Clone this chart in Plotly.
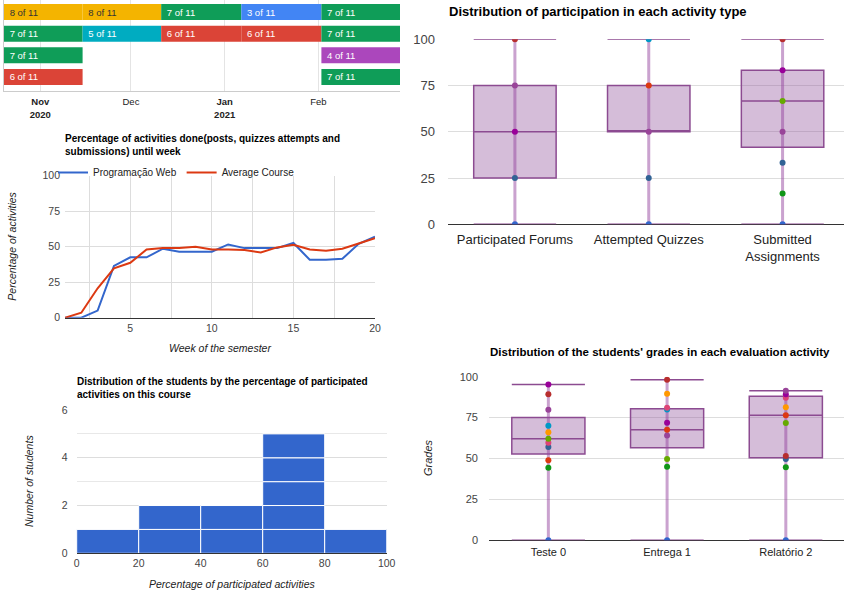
import plotly.graph_objects as go
import pandas as pd

W, H = 844, 592
FONT = "Arial, 'Liberation Sans', sans-serif"

# ---------------- data ----------------
# timeline (activity availability periods)
tl_rows = [0, 0, 0, 0, 0, 1, 1, 1, 1, 1, 2, 2, 3, 3]
tl_start = ["2020-10-20", "2020-11-15", "2020-12-11", "2021-01-06 12:00", "2021-02-02",
            "2020-10-20", "2020-11-15", "2020-12-11", "2021-01-06 12:00", "2021-02-02",
            "2020-10-20", "2021-02-02",
            "2020-10-20", "2021-02-02"]
tl_end = ["2020-11-15", "2020-12-11", "2021-01-06 12:00", "2021-02-02", "2021-02-28",
          "2020-11-15", "2020-12-11", "2021-01-06 12:00", "2021-02-02", "2021-02-28",
          "2020-11-15", "2021-02-28",
          "2020-11-15", "2021-02-28"]
tl_labels = ["8 of 11", "8 of 11", "7 of 11", "3 of 11", "7 of 11",
             "7 of 11", "5 of 11", "6 of 11", "6 of 11", "7 of 11",
             "7 of 11", "4 of 11",
             "6 of 11", "7 of 11"]
tl_colors = ["#f4b400", "#f4b400", "#0f9d58", "#4285f4", "#0f9d58",
             "#0f9d58", "#00acc1", "#db4437", "#db4437", "#0f9d58",
             "#0f9d58", "#ab47bc",
             "#db4437", "#0f9d58"]
tl_ticks = ["2020-11-01", "2020-12-01", "2021-01-01", "2021-02-01"]
tl_ticktext = ["<b>Nov</b><br><b>2020</b>", "Dec", "<b>Jan</b><br><b>2021</b>", "Feb"]

# weekly percentage of activities done
weeks = list(range(1, 21))
prog_web = [0, 0, 5, 36.5, 42.5, 42.5, 48.6, 46.5, 46.5, 46.5, 51.6, 49, 49, 49, 52.6, 40.8, 40.8, 41.5, 52, 57]
avg_course = [0, 3.5, 20.7, 34.7, 38.7, 48, 49, 49, 50, 48, 48, 47.6, 46, 49.5, 51.4, 48, 47.2, 48.6, 52.3, 56]

# histogram of students by percentage of participated activities
hist_edges = [0, 20, 40, 60, 80, 100]
hist_counts = [1, 2, 2, 5, 1]

# student palette (one colour per student)
palette = ["#3366cc", "#dc3912", "#ff9900", "#109618", "#990099", "#0099c6",
           "#dd4477", "#66aa00", "#b82e2e", "#316395", "#994499"]

# participation per activity type
part_cats = ["Participated Forums", "Attempted Quizzes", "Submitted<br>Assignments"]
part_min = [0, 0, 0]
part_q1 = [25, 50, 41.7]
part_med = [50, 50, 66.7]
part_q3 = [75, 75, 83.3]
part_max = [100, 100, 100]
part_points = [[0, 25, 50, 75, 100],
               [0, 25, 50, 75, 100],
               [0, 16.7, 33.3, 50, 66.7, 83.3, 100]]
part_point_colors = [[0, 9, 4, 10, 8],
                     [0, 9, 10, 1, 5],
                     [0, 3, 9, 10, 7, 4, 8]]

# grades per evaluation activity
grade_cats = ["Teste 0", "Entrega 1", "Relatório 2"]
grade_min = [0, 0, 0]
grade_q1 = [52.7, 56.6, 50.5]
grade_med = [62, 67.6, 76.4]
grade_q3 = [75, 80.4, 88]
grade_max = [95.3, 98.2, 91.4]
grade_points = [[0, 44.4, 48.9, 57, 59.7, 62.1, 66, 70, 79.8, 89.2, 95.3],
                [0, 45, 49.7, 64, 67.6, 71.9, 80, 81, 89.6, 98.2],
                [0, 44.6, 49.7, 51.5, 71.7, 76.4, 81.3, 87.2, 89.2, 91.4]]
grade_point_colors = [[0, 3, 1, 9, 6, 7, 2, 5, 10, 8, 4],
                      [0, 3, 7, 10, 1, 4, 5, 6, 2, 8],
                      [0, 3, 9, 8, 7, 1, 2, 6, 4, 10]]


def xd(a, b):
    return [a / W, min(b / W, 1)]


def yd(top, bottom):
    return [1 - bottom / H, 1 - top / H]


fig = go.Figure()

# ---------------- timeline ----------------
durations = [(pd.Timestamp(e) - pd.Timestamp(s)).total_seconds() * 1000 for s, e in zip(tl_start, tl_end)]
text_colors = ["#333333" if c == "#f4b400" else "#ffffff" for c in tl_colors]
fig.add_trace(go.Bar(
    y=tl_rows, x=durations, base=tl_start, orientation="h", width=0.74,
    marker=dict(color=tl_colors, line=dict(width=0)),
    text=["\u00a0" + t for t in tl_labels], textposition="inside", insidetextanchor="start",
    textfont=dict(size=9.5, color=text_colors, family=FONT), constraintext="none",
    xaxis="x", yaxis="y", showlegend=False, hoverinfo="skip"))

# ---------------- line chart ----------------
fig.add_trace(go.Scatter(x=weeks, y=prog_web, mode="lines", name="Programação Web",
                         line=dict(color="#3366cc", width=2), xaxis="x2", yaxis="y2", hoverinfo="skip"))
fig.add_trace(go.Scatter(x=weeks, y=avg_course, mode="lines", name="Average Course",
                         line=dict(color="#dc3912", width=2), xaxis="x2", yaxis="y2", hoverinfo="skip"))

# ---------------- histogram ----------------
hx, hb, hw = [], [], []
for i, cnt in enumerate(hist_counts):
    for k in range(cnt):
        hx.append((hist_edges[i] + hist_edges[i + 1]) / 2)
        hb.append(k)
        hw.append(hist_edges[i + 1] - hist_edges[i])
fig.add_trace(go.Bar(x=hx, y=[1] * len(hx), base=hb, width=hw,
                     marker=dict(color="#3366cc", line=dict(color="#ffffff", width=1)),
                     xaxis="x3", yaxis="y3", showlegend=False, hoverinfo="skip"))

# ---------------- box charts ----------------
BOX_LINE = "rgb(140,75,145)"
BOX_FILL = "rgba(150,90,160,0.4)"
STICK = "rgba(150,70,160,0.5)"
BOX_W = 0.616


def add_box(xa, ya, cats, mn, q1, med, q3, mx, pts, pcols):
    pos = list(range(len(cats)))
    # box body (quartiles and median)
    fig.add_trace(go.Box(x=pos, q1=q1, median=med, q3=q3, lowerfence=q1, upperfence=q3,
                         width=BOX_W, whiskerwidth=0, fillcolor=BOX_FILL,
                         line=dict(color=BOX_LINE, width=1.5), boxpoints=False,
                         xaxis=xa, yaxis=ya, showlegend=False, hoverinfo="skip"))
    # min-max stick
    sx, sy = [], []
    for p, a, b in zip(pos, mn, mx):
        sx += [p, p, None]
        sy += [a, b, None]
    fig.add_trace(go.Scatter(x=sx, y=sy, mode="lines", line=dict(color=STICK, width=3),
                             xaxis=xa, yaxis=ya, showlegend=False, hoverinfo="skip"))
    # caps at min and max
    cx, cy = [], []
    for p, a, b in zip(pos, mn, mx):
        for v in (a, b):
            cx += [p - BOX_W / 2, p + BOX_W / 2, None]
            cy += [v, v, None]
    fig.add_trace(go.Scatter(x=cx, y=cy, mode="lines", line=dict(color=BOX_LINE, width=1.5),
                             xaxis=xa, yaxis=ya, showlegend=False, hoverinfo="skip"))
    # student points
    px_, py_, pc_ = [], [], []
    for p, vals, cols in zip(pos, pts, pcols):
        for v, c in zip(vals, cols):
            px_.append(p)
            py_.append(v)
            pc_.append(palette[c])
    fig.add_trace(go.Scatter(x=px_, y=py_, mode="markers", marker=dict(color=pc_, size=6),
                             xaxis=xa, yaxis=ya, showlegend=False, hoverinfo="skip"))


add_box("x4", "y4", part_cats, part_min, part_q1, part_med, part_q3, part_max, part_points, part_point_colors)
add_box("x5", "y5", grade_cats, grade_min, grade_q1, grade_med, grade_q3, grade_max, grade_points, grade_point_colors)

GRID = "#dddddd"
TICK = "#444444"

fig.update_layout(
    width=W, height=H, margin=dict(l=0, r=0, t=0, b=0, autoexpand=False),
    paper_bgcolor="white", plot_bgcolor="white",
    font=dict(family=FONT, color="#222222"),
    hovermode=False, barmode="overlay",
    legend=dict(orientation="h", x=53 / W, y=1 - 158 / H, xanchor="left", yanchor="top",
                font=dict(size=10, color="#222222"), bgcolor="rgba(0,0,0,0)", itemwidth=30),
    # timeline
    xaxis=dict(domain=xd(4, 400), anchor="y", type="date", range=["2020-10-20", "2021-02-28"],
               tickvals=tl_ticks, ticktext=tl_ticktext, showgrid=True, gridcolor="#e4e4e4",
               showline=True, linecolor="#cccccc", zeroline=False, ticks="", automargin=False,
               tickfont=dict(size=9.5, color="#222222"), ticklabelstandoff=2),
    yaxis=dict(domain=yd(0, 91), anchor="x", range=[3.65, -0.556], showticklabels=False,
               showgrid=False, zeroline=False, showline=True, linecolor="#cccccc", automargin=False),
    # line chart
    xaxis2=dict(domain=xd(65, 375), anchor="y2", range=[1, 20], tick0=0, dtick=5,
                showgrid=True, gridcolor=GRID, minor=dict(dtick=2.5, tick0=0, showgrid=True, gridcolor=GRID),
                showline=True, linecolor="#333333", layer="below traces", zeroline=False, ticks="",
                tickfont=dict(size=10.5, color=TICK), automargin=False, ticklabelstandoff=1),
    yaxis2=dict(domain=yd(175.7, 317.7), anchor="x2", range=[0, 100], dtick=25, showgrid=True,
                gridcolor=GRID, zeroline=False, ticks="", tickfont=dict(size=10.5, color=TICK),
                ticklabelstandoff=4, automargin=False),
    # histogram
    xaxis3=dict(domain=xd(76.7, 386.7), anchor="y3", range=[0, 100], dtick=20, showgrid=False,
                showline=True, linecolor="#333333", zeroline=False, ticks="",
                tickfont=dict(size=10.5, color=TICK), automargin=False),
    yaxis3=dict(domain=yd(410, 553.3), anchor="x3", range=[0, 6], dtick=2, showgrid=True, gridcolor=GRID,
                minor=dict(dtick=1, showgrid=True, gridcolor="#e8e8e8"), zeroline=False, ticks="",
                tickfont=dict(size=10.5, color=TICK), ticklabelstandoff=8, automargin=False),
    # participation box
    xaxis4=dict(domain=xd(448, 844), anchor="y4", range=[-0.5, 2.459], tickvals=[0, 1, 2],
                ticktext=part_cats, showgrid=False, zeroline=False, ticks="",
                tickfont=dict(size=13, color="#222222"), ticklabelstandoff=6, automargin=False),
    yaxis4=dict(domain=yd(39.3, 224.3), anchor="x4", range=[0, 100], dtick=25, showgrid=True,
                gridcolor=GRID, zeroline=True, zerolinecolor="#333333", zerolinewidth=1, ticks="",
                tickfont=dict(size=13, color=TICK), ticklabelstandoff=12, automargin=False),
    # grades box
    xaxis5=dict(domain=xd(489, 844), anchor="y5", range=[-0.5, 2.49], tickvals=[0, 1, 2],
                ticktext=grade_cats, showgrid=False, zeroline=False, ticks="",
                tickfont=dict(size=11, color="#222222"), ticklabelstandoff=4, automargin=False),
    yaxis5=dict(domain=yd(376.7, 540.3), anchor="x5", range=[0, 100], dtick=25, showgrid=True,
                gridcolor=GRID, zeroline=True, zerolinecolor="#333333", zerolinewidth=1, ticks="",
                tickfont=dict(size=11, color=TICK), ticklabelstandoff=10, automargin=False),
)


def ann(text, x, y, size, xanchor="left", yanchor="middle", angle=0, color="#222222"):
    fig.add_annotation(text=text, x=x / W, y=1 - y / H, xref="paper", yref="paper",
                       xanchor=xanchor, yanchor=yanchor, textangle=angle, showarrow=False,
                       align="left", font=dict(size=size, color=color, family=FONT))


ann("<b>Percentage of activities done(posts, quizzes attempts and<br>submissions) until week</b>",
    63, 145, 10, color="#000000")
ann("<i>Percentage of activities</i>", 12, 246.7, 10.5, xanchor="center", angle=-90)
ann("<i>Week of the semester</i>", 220, 348, 10.5, xanchor="center")

ann("<b>Distribution of the students by the percentage of participated<br>activities on this course</b>",
    75, 387.5, 10, color="#000000")
ann("<i>Number of students</i>", 29, 481, 10.5, xanchor="center", angle=-90)
ann("<i>Percentage of participated activities</i>", 232, 584, 10.5, xanchor="center")

ann("<b>Distribution of participation in each activity type</b>", 447, 11.7, 13, color="#000000")

ann("<b>Distribution of the students' grades in each evaluation activity</b>", 488, 352.3, 11.5, color="#000000")
ann("<i>Grades</i>", 428, 458, 11, xanchor="center", angle=-90)

fig.write_html("out.html", config={"displayModeBar": False},
               post_script="document.body.style.margin='0px';document.body.style.overflow='hidden';")
